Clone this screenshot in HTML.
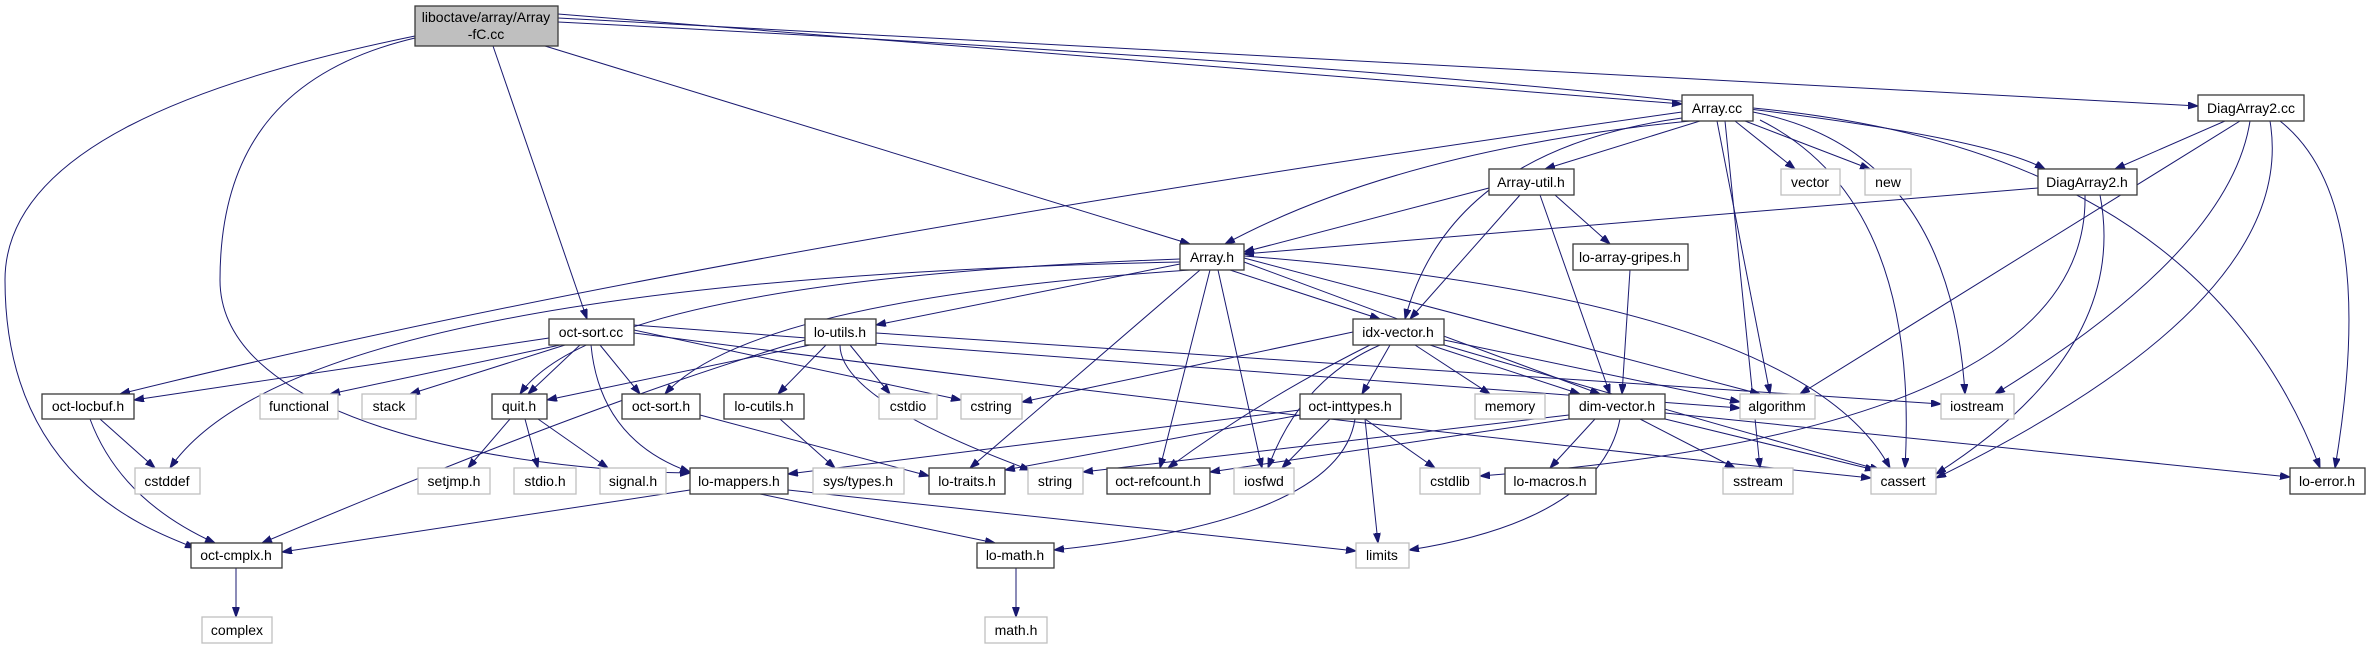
<!DOCTYPE html>
<html><head><meta charset="utf-8"><style>
html,body{margin:0;padding:0;background:#fff;}
svg{display:block;}
text{font-family:"Liberation Sans",sans-serif;font-size:14px;fill:#000;text-anchor:middle;}
.n{fill:#fff;stroke:#3a3a3a;stroke-width:1.3;}
.g{fill:#fff;stroke:#bfbfbf;stroke-width:1.3;}
path{fill:none;stroke:#191970;stroke-width:1;}
</style></head><body>
<svg width="2380" height="649" viewBox="0 0 2380 649" xmlns="http://www.w3.org/2000/svg">
<defs><marker id="a" markerUnits="userSpaceOnUse" markerWidth="11" markerHeight="8" refX="10" refY="3.5" orient="auto"><path d="M0,0 L10,3.5 L0,7 z" style="fill:#191970;stroke:#191970"/></marker></defs>
<g marker-end="url(#a)">
<path d="M558,14 L1682,104"/>
<path d="M558,18 L2198,106"/>
<path d="M558,22 Q1900,90 2045,169"/>
<path d="M545,46 L1190,244"/>
<path d="M493,46 L587,319"/>
<path d="M415,38 C280,70 220,150 220,280 C220,420 500,470 690,473"/>
<path d="M415,36 C200,80 5,150 5,280 C5,480 150,530 195,548"/>
<path d="M1690,121 Q1400,150 1225,244"/>
<path d="M1700,121 L1545,169"/>
<path d="M1682,118 Q1450,150 1405,319"/>
<path d="M1682,112 Q700,250 120,394"/>
<path d="M1735,121 L1795,169"/>
<path d="M1745,121 L1870,169"/>
<path d="M1717,121 L1770,394"/>
<path d="M1753,112 Q1950,150 1965,394"/>
<path d="M1725,121 L1760,468"/>
<path d="M1760,120 Q1920,200 1905,468"/>
<path d="M1753,108 Q2200,150 2320,468"/>
<path d="M2225,121 L2115,169"/>
<path d="M2240,121 L1800,394"/>
<path d="M2250,121 Q2230,250 1995,394"/>
<path d="M2270,121 Q2300,300 1936,478"/>
<path d="M2280,121 Q2380,200 2335,468"/>
<path d="M2038,188 L1244,254"/>
<path d="M2100,195 Q2130,350 1936,474"/>
<path d="M2085,195 Q2090,430 1480,476"/>
<path d="M1489,188 L1244,252"/>
<path d="M1520,195 L1410,319"/>
<path d="M1540,195 L1610,394"/>
<path d="M1555,195 L1610,244"/>
<path d="M1630,270 L1622,394"/>
<path d="M1180,262 Q300,280 170,468"/>
<path d="M1180,259 Q600,280 520,394"/>
<path d="M1180,264 L876,325"/>
<path d="M1190,270 Q750,300 665,394"/>
<path d="M1200,270 L970,468"/>
<path d="M1210,270 L1160,468"/>
<path d="M1218,270 L1262,468"/>
<path d="M1230,270 L1380,319"/>
<path d="M1244,262 L1600,394"/>
<path d="M1244,258 L1760,394"/>
<path d="M1244,256 Q1800,300 1890,468"/>
<path d="M549,338 L134,400"/>
<path d="M560,345 L330,394"/>
<path d="M565,345 L410,394"/>
<path d="M580,345 L528,394"/>
<path d="M600,345 L640,394"/>
<path d="M591,345 Q600,440 690,472"/>
<path d="M634,330 L961,400"/>
<path d="M634,325 L1740,408"/>
<path d="M634,333 Q1300,420 1871,478"/>
<path d="M810,345 L547,400"/>
<path d="M826,345 L778,394"/>
<path d="M850,345 L890,394"/>
<path d="M840,345 Q840,400 1030,470"/>
<path d="M805,340 Q600,400 262,543"/>
<path d="M876,333 L1941,404"/>
<path d="M100,419 L155,468"/>
<path d="M90,419 Q120,500 215,543"/>
<path d="M510,419 L468,468"/>
<path d="M525,419 L538,468"/>
<path d="M538,419 L608,468"/>
<path d="M700,415 L929,476"/>
<path d="M780,419 L835,468"/>
<path d="M1353,332 L1022,402"/>
<path d="M1390,345 L1362,394"/>
<path d="M1415,345 L1490,394"/>
<path d="M1430,345 L1580,394"/>
<path d="M1444,340 L1740,402"/>
<path d="M1444,345 Q1700,420 1880,470"/>
<path d="M1380,345 Q1300,380 1268,468"/>
<path d="M1370,345 Q1260,400 1168,468"/>
<path d="M1300,410 L788,474"/>
<path d="M1300,415 L1005,470"/>
<path d="M1330,419 L1282,468"/>
<path d="M1365,419 L1435,468"/>
<path d="M1365,419 L1378,543"/>
<path d="M1355,419 Q1340,520 1054,550"/>
<path d="M1569,415 L1083,472"/>
<path d="M1569,419 L1210,472"/>
<path d="M1595,419 L1550,468"/>
<path d="M1640,419 L1735,468"/>
<path d="M1665,419 L1875,470"/>
<path d="M1665,413 L2290,477"/>
<path d="M1620,419 Q1600,520 1409,550"/>
<path d="M690,490 L282,552"/>
<path d="M760,494 L995,543"/>
<path d="M788,490 L1356,551"/>
<path d="M1016,568 L1016,617"/>
<path d="M236,568 L236,617"/>
</g>
<rect x="415" y="6" width="143" height="40" style="fill:#bfbfbf;stroke:#3a3a3a;stroke-width:1.3"/>
<text x="486" y="22">liboctave/array/Array</text><text x="486" y="39">-fC.cc</text>
<g>
<rect class="n" x="1682" y="95" width="71" height="26"/><text x="1717" y="113">Array.cc</text>
<rect class="n" x="2198" y="95" width="106" height="26"/><text x="2251" y="113">DiagArray2.cc</text>
<rect class="n" x="1489" y="169" width="85" height="26"/><text x="1531" y="187">Array-util.h</text>
<rect class="n" x="2038" y="169" width="99" height="26"/><text x="2087" y="187">DiagArray2.h</text>
<rect class="g" x="1781" y="169" width="59" height="26"/><text x="1810" y="187">vector</text>
<rect class="g" x="1865" y="169" width="46" height="26"/><text x="1888" y="187">new</text>
<rect class="n" x="1180" y="244" width="64" height="26"/><text x="1212" y="262">Array.h</text>
<rect class="n" x="1573" y="244" width="115" height="26"/><text x="1630" y="262">lo-array-gripes.h</text>
<rect class="n" x="549" y="319" width="85" height="26"/><text x="591" y="337">oct-sort.cc</text>
<rect class="n" x="805" y="319" width="71" height="26"/><text x="840" y="337">lo-utils.h</text>
<rect class="n" x="1353" y="319" width="91" height="26"/><text x="1398" y="337">idx-vector.h</text>
<rect class="n" x="42" y="394" width="92" height="25"/><text x="88" y="411">oct-locbuf.h</text>
<rect class="g" x="260" y="394" width="78" height="25"/><text x="299" y="411">functional</text>
<rect class="g" x="362" y="394" width="54" height="25"/><text x="389" y="411">stack</text>
<rect class="n" x="492" y="394" width="55" height="25"/><text x="519" y="411">quit.h</text>
<rect class="n" x="622" y="394" width="78" height="25"/><text x="661" y="411">oct-sort.h</text>
<rect class="n" x="724" y="394" width="80" height="25"/><text x="764" y="411">lo-cutils.h</text>
<rect class="g" x="879" y="394" width="58" height="25"/><text x="908" y="411">cstdio</text>
<rect class="g" x="961" y="394" width="61" height="25"/><text x="991" y="411">cstring</text>
<rect class="n" x="1300" y="394" width="101" height="25"/><text x="1350" y="411">oct-inttypes.h</text>
<rect class="g" x="1475" y="394" width="70" height="25"/><text x="1510" y="411">memory</text>
<rect class="n" x="1569" y="394" width="96" height="25"/><text x="1617" y="411">dim-vector.h</text>
<rect class="g" x="1740" y="394" width="75" height="25"/><text x="1777" y="411">algorithm</text>
<rect class="g" x="1941" y="394" width="73" height="25"/><text x="1977" y="411">iostream</text>
<rect class="g" x="135" y="468" width="65" height="26"/><text x="167" y="486">cstddef</text>
<rect class="g" x="418" y="468" width="72" height="26"/><text x="454" y="486">setjmp.h</text>
<rect class="g" x="514" y="468" width="62" height="26"/><text x="545" y="486">stdio.h</text>
<rect class="g" x="600" y="468" width="66" height="26"/><text x="633" y="486">signal.h</text>
<rect class="n" x="690" y="468" width="98" height="26"/><text x="739" y="486">lo-mappers.h</text>
<rect class="g" x="813" y="468" width="91" height="26"/><text x="858" y="486">sys/types.h</text>
<rect class="n" x="929" y="468" width="76" height="26"/><text x="967" y="486">lo-traits.h</text>
<rect class="g" x="1028" y="468" width="55" height="26"/><text x="1055" y="486">string</text>
<rect class="n" x="1107" y="468" width="103" height="26"/><text x="1158" y="486">oct-refcount.h</text>
<rect class="g" x="1234" y="468" width="60" height="26"/><text x="1264" y="486">iosfwd</text>
<rect class="g" x="1420" y="468" width="60" height="26"/><text x="1450" y="486">cstdlib</text>
<rect class="n" x="1505" y="468" width="91" height="26"/><text x="1550" y="486">lo-macros.h</text>
<rect class="g" x="1723" y="468" width="70" height="26"/><text x="1758" y="486">sstream</text>
<rect class="g" x="1871" y="468" width="65" height="26"/><text x="1903" y="486">cassert</text>
<rect class="n" x="2290" y="468" width="75" height="26"/><text x="2327" y="486">lo-error.h</text>
<rect class="n" x="191" y="543" width="91" height="25"/><text x="236" y="560">oct-cmplx.h</text>
<rect class="n" x="977" y="543" width="77" height="25"/><text x="1015" y="560">lo-math.h</text>
<rect class="g" x="1356" y="543" width="53" height="25"/><text x="1382" y="560">limits</text>
<rect class="g" x="202" y="617" width="70" height="26"/><text x="237" y="635">complex</text>
<rect class="g" x="985" y="617" width="62" height="26"/><text x="1016" y="635">math.h</text>
</g>
</svg>
</body></html>
